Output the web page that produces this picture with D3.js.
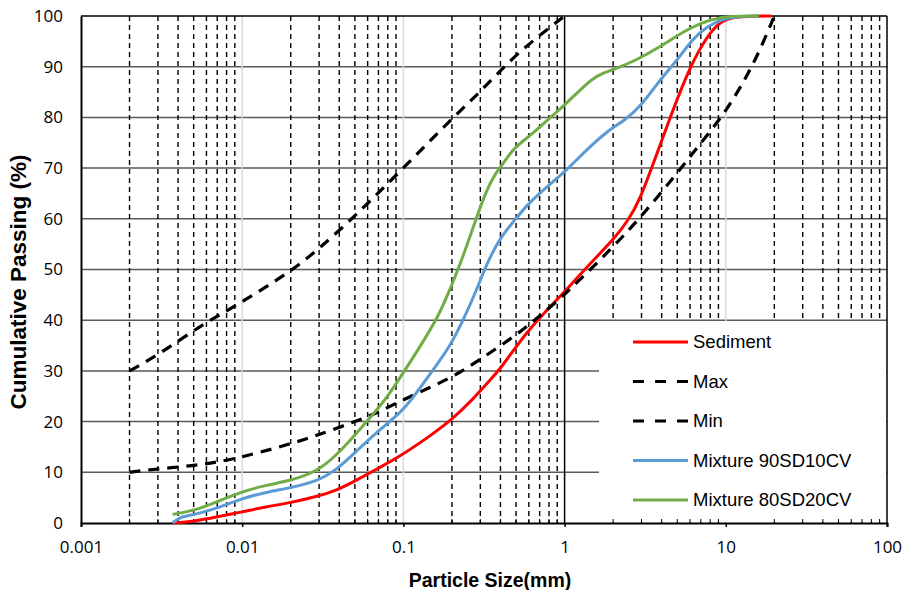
<!DOCTYPE html>
<html>
<head>
<meta charset="utf-8">
<script src="https://cdn.jsdelivr.net/npm/d3@7/dist/d3.min.js"></script>
<style>
  html, body { margin: 0; padding: 0; background: #ffffff; }
  svg { display: block; }
</style>
</head>
<body>
<svg id="chart" width="903" height="590"></svg>
<script>
// Grain-size distribution curves: [particle size (mm), cumulative passing (%)]
const sediment = [[0.0037,0],[0.005,0.3],[0.007,1.2],[0.01,2.2],[0.014,3.2],[0.02,4.0],[0.029,5.2],[0.039,6.5],[0.051,8.4],[0.068,10.6],[0.095,13.1],[0.15,17.4],[0.2,20.4],[0.27,24.4],[0.34,28],[0.4,30.4],[0.58,37.7],[0.85,43.3],[1.0,45.6],[1.44,51.2],[2.0,55.8],[2.5,59.8],[2.94,63.9],[3.55,70.9],[4.7,81.5],[6.0,90],[7.6,95.9],[9.2,98.9],[11.1,99.9],[19,100]];
const maxLimit = [[0.002,30],[0.003,33.1],[0.005,38],[0.007,40.8],[0.01,43.6],[0.02,49.6],[0.03,54.1],[0.05,60.5],[0.1,70],[0.2,79.8],[0.3,85],[0.5,92.6],[1,100]];
const minLimit = [[0.002,10],[0.003,10.7],[0.005,11.3],[0.007,12],[0.01,13],[0.02,15.6],[0.03,17.4],[0.05,20],[0.07,21.8],[0.1,24.4],[0.2,28.6],[0.3,32.3],[0.5,37],[0.7,40.8],[1,45],[2,54.4],[3,60.5],[5,69],[7,75],[10,81],[15,90.5],[20,100]];
const mix90 = [[0.0037,0],[0.0041,1.2],[0.005,1.6],[0.007,2.9],[0.01,4.9],[0.0142,6.1],[0.0197,6.9],[0.029,8.2],[0.0386,10.5],[0.0513,14.2],[0.0683,17.9],[0.0953,21.7],[0.11,23.9],[0.153,30.2],[0.195,34.9],[0.235,40],[0.285,46],[0.329,51.2],[0.397,56.2],[0.481,59.4],[0.582,62.7],[0.774,66.3],[1.03,69.6],[1.37,73.6],[1.82,77.2],[2.43,79.7],[2.94,82.1],[3.91,87.4],[4.96,91.2],[6.28,95.6],[7.62,97.9],[9.64,99.5],[12.2,99.9],[16,100]];
const mix80 = [[0.0037,1.7],[0.005,2.4],[0.007,4.2],[0.01,6.2],[0.0142,7.5],[0.0197,8.3],[0.029,10.1],[0.0386,13.4],[0.0513,17.7],[0.0683,22.3],[0.0788,24.7],[0.0998,29.6],[0.127,34.8],[0.161,40.2],[0.186,44.6],[0.214,49.3],[0.247,54.6],[0.285,60.4],[0.329,65.7],[0.37,68.9],[0.437,71.8],[0.481,73.9],[0.64,76.9],[0.851,80.5],[1.03,82.8],[1.37,86.7],[1.62,88.4],[2.0,89.4],[2.8,91.3],[3.91,93.9],[5.45,96.9],[6.92,98.6],[9.2,99.8],[12.2,100],[16,100]];

const xTickValues = [0.001, 0.01, 0.1, 1, 10, 100];
const xTickLabels = ["0.001", "0.01", "0.1", "1", "10", "100"];
const yTickValues = [0, 10, 20, 30, 40, 50, 60, 70, 80, 90, 100];

const series = [
  { name: "Sediment", data: sediment, color: "#ff0000", dashed: false },
  { name: "Max", data: maxLimit, color: "#000000", dashed: true },
  { name: "Min", data: minLimit, color: "#000000", dashed: true },
  { name: "Mixture 90SD10CV", data: mix90, color: "#5b9bd5", dashed: false },
  { name: "Mixture 80SD20CV", data: mix80, color: "#70ad47", dashed: false }
];

const svg = d3.select("#chart");
const plot = { left: 81, top: 16, right: 887, bottom: 523 };

const x = d3.scaleLog().domain([0.001, 100]).range([plot.left, plot.right]);
const y = d3.scaleLinear().domain([0, 100]).range([plot.bottom, plot.top]);

// minor values 2..9 within each decade
const minorValues = [];
for (let e = -3; e <= 1; e++) {
  for (let m = 2; m <= 9; m++) minorValues.push(+(m * Math.pow(10, e)).toPrecision(3));
}

const g = svg.append("g");

// horizontal gridlines
g.append("g").selectAll("line")
  .data(yTickValues.filter(v => v > 0 && v < 100))
  .join("line")
  .attr("x1", plot.left).attr("x2", plot.right)
  .attr("y1", d => y(d)).attr("y2", d => y(d))
  .attr("stroke", "#595959").attr("stroke-width", 1.5);

// dashed minor verticals
g.append("g").selectAll("line")
  .data(minorValues)
  .join("line")
  .attr("x1", d => x(d)).attr("x2", d => x(d))
  .attr("y1", plot.top).attr("y2", plot.bottom)
  .attr("stroke", "#000").attr("stroke-width", 1.4)
  .attr("stroke-dasharray", "5,4");

// light major verticals
g.append("g").selectAll("line")
  .data([0.01, 0.1, 10])
  .join("line")
  .attr("x1", d => x(d)).attr("x2", d => x(d))
  .attr("y1", plot.top).attr("y2", plot.bottom)
  .attr("stroke", "#d9d9d9").attr("stroke-width", 1.5);

// solid line at 1 mm
g.append("line")
  .attr("x1", x(1)).attr("x2", x(1))
  .attr("y1", plot.top).attr("y2", plot.bottom)
  .attr("stroke", "#000").attr("stroke-width", 1.5);

// legend background
const legendBox = { x0: 599, y0: y(40) + 1.2 };
svg.append("rect")
  .attr("x", legendBox.x0).attr("y", legendBox.y0)
  .attr("width", plot.right - legendBox.x0 - 1)
  .attr("height", plot.bottom - legendBox.y0 - 1)
  .attr("fill", "#fff");

// minor x ticks inside the axis
svg.append("g").selectAll("line")
  .data(minorValues)
  .join("line")
  .attr("x1", d => x(d)).attr("x2", d => x(d))
  .attr("y1", plot.bottom).attr("y2", plot.bottom - 4)
  .attr("stroke", "#000").attr("stroke-width", 1);

// frame
svg.append("line").attr("x1", plot.left).attr("x2", plot.right).attr("y1", plot.top).attr("y2", plot.top)
  .attr("stroke", "#000").attr("stroke-width", 1.5);
svg.append("line").attr("x1", plot.right).attr("x2", plot.right).attr("y1", plot.top).attr("y2", plot.bottom)
  .attr("stroke", "#000").attr("stroke-width", 1.5);

// axes
const xAxis = d3.axisBottom(x).tickValues(xTickValues)
  .tickFormat((d, i) => xTickLabels[i]).tickSize(4).tickPadding(14);
const xg = svg.append("g").attr("transform", `translate(0,${plot.bottom})`).call(xAxis);
xg.select(".domain").attr("stroke", "#000").attr("stroke-width", 2);
xg.selectAll(".tick line").attr("stroke", "#000").attr("stroke-width", 1.5);
xg.selectAll("text").attr("font-family", "'Open Sans', sans-serif").attr("font-size", 17).attr("fill", "#000");

const yAxis = d3.axisLeft(y).tickValues(yTickValues).tickSize(0).tickPadding(18);
const yg = svg.append("g").attr("transform", `translate(${plot.left},0)`).call(yAxis);
yg.select(".domain").attr("stroke", "#000").attr("stroke-width", 2);
yg.selectAll("text").attr("font-family", "'Open Sans', sans-serif").attr("font-size", 17).attr("fill", "#000");

// curves, smoothed
const line = d3.line()
  .x(d => x(d[0])).y(d => y(d[1]))
  .curve(d3.curveBasis);

svg.append("g").selectAll("path")
  .data(series)
  .join("path")
  .attr("d", d => line(d.data))
  .attr("fill", "none")
  .attr("stroke", d => d.color)
  .attr("stroke-width", d => d.dashed ? 3.2 : 3)
  .attr("stroke-dasharray", d => d.dashed ? "11,8" : null)
  .attr("stroke-linejoin", "round");

// legend
const legend = svg.append("g").attr("transform", "translate(633,342)");
const items = legend.selectAll("g").data(series).join("g")
  .attr("transform", (d, i) => `translate(0,${i * 39.5})`);
items.append("line")
  .attr("x1", 0).attr("x2", 55).attr("y1", 0).attr("y2", 0)
  .attr("stroke", d => d.color).attr("stroke-width", 3)
  .attr("stroke-dasharray", d => d.dashed ? "11,11" : null);
items.append("text")
  .attr("x", 60).attr("y", 0).attr("dy", "0.35em")
  .attr("font-family", "'Liberation Sans', Arial, sans-serif")
  .attr("font-size", 18.5).attr("fill", "#000")
  .text(d => d.name);

// axis titles
svg.append("text")
  .attr("x", 490).attr("y", 587)
  .attr("text-anchor", "middle")
  .attr("font-family", "'Liberation Sans', Arial, sans-serif")
  .attr("font-weight", "bold").attr("font-size", 19.5)
  .text("Particle Size(mm)");

svg.append("text")
  .attr("transform", "translate(26,282) rotate(-90)")
  .attr("text-anchor", "middle")
  .attr("font-family", "'Liberation Sans', Arial, sans-serif")
  .attr("font-weight", "bold").attr("font-size", 22.5)
  .text("Cumulative Passing (%)");
</script>
</body>
</html>
